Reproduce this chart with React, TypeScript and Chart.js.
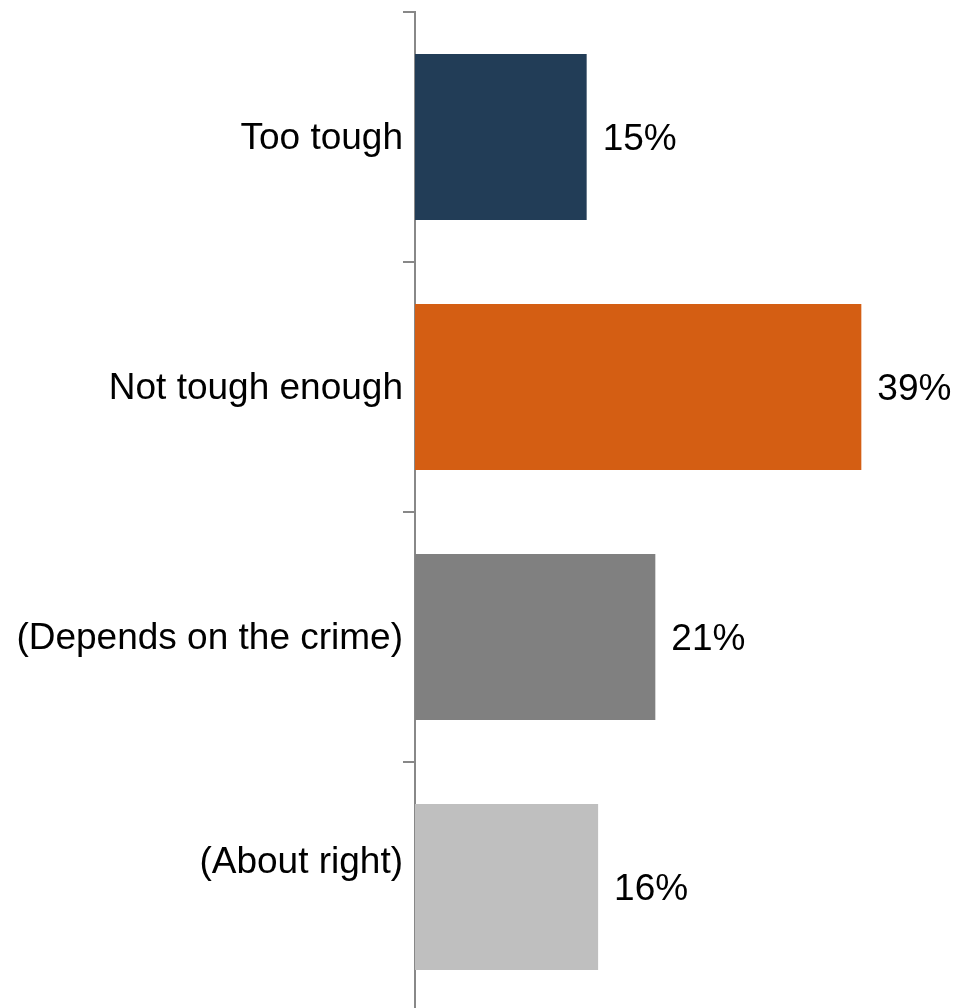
import React, { useEffect, useRef } from "react";
import { Chart, registerables } from "chart.js";

Chart.register(...registerables);

const categories: (string | string[])[] = ["Too tough", "Not tough enough", "(Depends on the crime)", ["(About right)", ""]];
const values = [15, 39, 21, 16];
const barColors = ["#223D57", "#D45E13", "#808080", "#BFBFBF"];
const valueLabels = ["15%", "39%", "21%", "16%"];

const FONT = "'Liberation Sans', Arial, sans-serif";
const FONT_SIZE = 37;

const valueLabelPlugin = {
  id: "valueLabels",
  afterDatasetsDraw(chart: any) {
    const ctx = chart.ctx;
    const meta = chart.getDatasetMeta(0);
    ctx.save();
    ctx.font = `${FONT_SIZE}px ${FONT}`;
    ctx.fillStyle = "#000000";
    ctx.textAlign = "left";
    ctx.textBaseline = "middle";
    meta.data.forEach((bar: any, i: number) => {
      ctx.fillText(valueLabels[i], bar.x + 16, bar.y + 3);
    });
    ctx.restore();
  },
};

export default function App() {
  const ref = useRef<HTMLCanvasElement | null>(null);
  useEffect(() => {
    if (!ref.current) return;
    const chart = new Chart(ref.current, {
      type: "bar",
      data: {
        labels: categories,
        datasets: [
          {
            data: values,
            backgroundColor: barColors,
            borderWidth: 0,
            categoryPercentage: 1,
            barPercentage: 0.664,
          },
        ],
      },
      options: {
        indexAxis: "y",
        animation: false,
        responsive: false,
        maintainAspectRatio: false,
        layout: { padding: { top: 12, right: 24, bottom: 0, left: 0 } },
        plugins: { legend: { display: false }, tooltip: { enabled: false } },
        scales: {
          x: { display: false, min: 0, max: 45 },
          y: {
            afterFit(scale: any) {
              scale.width = 415;
              scale.paddingTop = 0;
              scale.paddingBottom = 0;
            },
            grid: {
              drawOnChartArea: false,
              drawTicks: true,
              tickLength: 12,
              color: "#888888",
              lineWidth: 2,
              offset: true,
            },
            border: { display: true, color: "#888888", width: 2 },
            ticks: {
              color: "#000000",
              padding: 0,
              labelOffset: 2,
              font: (c: any) => ({
                family: FONT,
                size: FONT_SIZE,
                lineHeight: c.index === 3 ? 1.4 : 1.2,
              }),
            },
          },
        },
      },
      plugins: [valueLabelPlugin],
    });
    return () => chart.destroy();
  }, []);
  return (
    <div style={{ position: "fixed", top: 0, left: 0, width: 954, height: 1008, overflow: "hidden", background: "#fff" }}>
      <canvas ref={ref} width={954} height={1012} style={{ display: "block" }} />
    </div>
  );
}
